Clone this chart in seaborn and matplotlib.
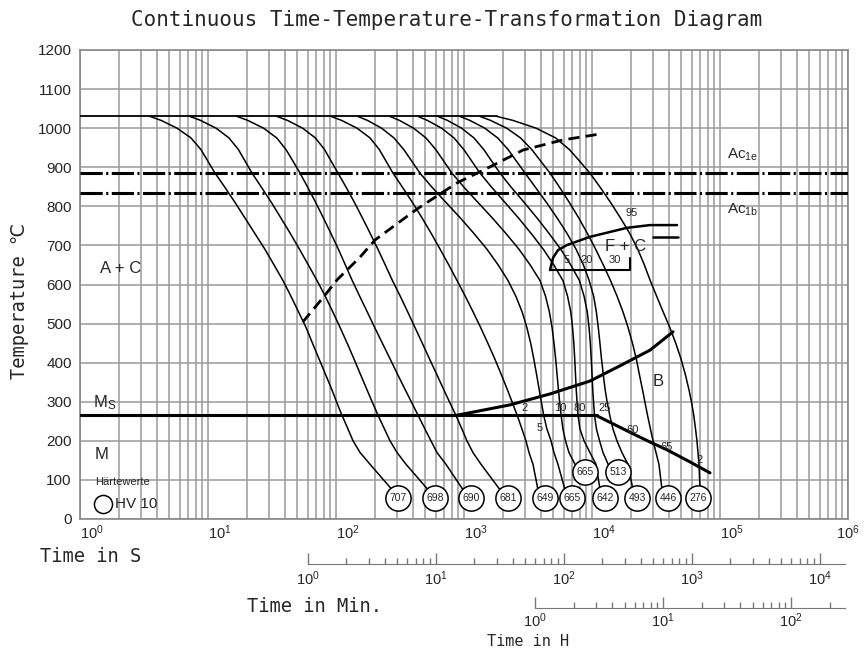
import seaborn as sns
import matplotlib.pyplot as plt
import pandas as pd
from matplotlib.ticker import FixedLocator, NullFormatter, LogLocator

sns.set_style("whitegrid")
plt.rcParams['font.family'] = ['Liberation Sans', 'DejaVu Sans']
plt.rcParams['mathtext.default'] = 'regular'
plt.rcParams['lines.scale_dashes'] = False

MONO = ['DejaVu Sans Mono', 'DejaVu Sans']

LEVELS = [1030, 1020, 1000, 975, 945, 915, 885, 850, 810, 770, 730, 690, 650, 610,
          570, 530, 490, 450, 410, 370, 330, 300, 265, 230, 200, 170, 140]

# log10(time in s) of each cooling curve at LEVELS; last entry = end at its hardness circle
C1 = [0.547, 0.633, 0.758, 0.867, 0.945, 1.0, 1.055, 1.129, 1.211, 1.289, 1.367, 1.445, 1.516, 1.586,
      1.648, 1.707, 1.766, 1.816, 1.867, 1.918, 1.969, 2.004, 2.047, 2.094, 2.133, 2.188, 2.266, 2.438]
C2 = [0.859, 0.941, 1.063, 1.164, 1.238, 1.291, 1.344, 1.415, 1.495, 1.570, 1.644, 1.715, 1.784, 1.852,
      1.916, 1.975, 2.032, 2.087, 2.140, 2.191, 2.243, 2.282, 2.329, 2.379, 2.422, 2.477, 2.547, 2.719]
C3 = [1.227, 1.310, 1.434, 1.537, 1.610, 1.665, 1.719, 1.777, 1.841, 1.902, 1.961, 2.019, 2.073, 2.127,
      2.185, 2.244, 2.302, 2.362, 2.422, 2.481, 2.542, 2.588, 2.642, 2.695, 2.742, 2.789, 2.859, 2.992]
C4 = [1.539, 1.620, 1.739, 1.839, 1.911, 1.963, 2.016, 2.077, 2.144, 2.207, 2.268, 2.328, 2.385, 2.441,
      2.502, 2.560, 2.617, 2.674, 2.730, 2.787, 2.843, 2.886, 2.937, 2.984, 3.023, 3.070, 3.133, 3.281]
C5 = [1.961, 2.043, 2.164, 2.266, 2.339, 2.392, 2.445, 2.517, 2.597, 2.673, 2.745, 2.814, 2.881, 2.946,
      3.010, 3.071, 3.130, 3.186, 3.240, 3.291, 3.340, 3.375, 3.416, 3.453, 3.484, 3.508, 3.539, 3.578]
C6 = [2.172, 2.245, 2.356, 2.453, 2.530, 2.593, 2.656, 2.747, 2.859, 2.972, 3.079, 3.180, 3.267, 3.344,
      3.405, 3.454, 3.491, 3.521, 3.545, 3.567, 3.588, 3.604, 3.623, 3.648, 3.680, 3.703, 3.734, 3.789]
C7 = [2.422, 2.495, 2.606, 2.703, 2.780, 2.843, 2.906, 2.997, 3.109, 3.222, 3.329, 3.430, 3.517, 3.594,
      3.637, 3.667, 3.688, 3.703, 3.716, 3.727, 3.738, 3.747, 3.759, 3.773, 3.793, 3.820, 3.875]
C8 = [2.641, 2.713, 2.825, 2.922, 2.999, 3.062, 3.125, 3.213, 3.320, 3.426, 3.526, 3.620, 3.702, 3.773,
      3.809, 3.834, 3.848, 3.858, 3.865, 3.871, 3.877, 3.883, 3.891, 3.906, 3.938, 3.984, 4.031, 4.063]
C9 = [2.797, 2.870, 2.981, 3.078, 3.155, 3.218, 3.281, 3.366, 3.470, 3.571, 3.666, 3.756, 3.834, 3.902,
      3.938, 3.963, 3.977, 3.987, 3.994, 4.000, 4.006, 4.012, 4.020, 4.035, 4.059, 4.086, 4.133]
C10 = [2.969, 3.045, 3.162, 3.263, 3.345, 3.411, 3.477, 3.555, 3.644, 3.728, 3.806, 3.876, 3.933, 3.978,
       4.013, 4.034, 4.049, 4.062, 4.074, 4.088, 4.103, 4.118, 4.139, 4.164, 4.195, 4.234, 4.281, 4.320]
C11 = [3.125, 3.207, 3.333, 3.442, 3.530, 3.601, 3.672, 3.744, 3.823, 3.897, 3.965, 4.029, 4.088, 4.145,
       4.196, 4.242, 4.282, 4.316, 4.346, 4.370, 4.395, 4.413, 4.434, 4.457, 4.477, 4.500, 4.523, 4.547]
C12 = [3.258, 3.381, 3.563, 3.716, 3.824, 3.905, 3.984, 4.061, 4.145, 4.223, 4.296, 4.358, 4.409, 4.455,
       4.505, 4.556, 4.608, 4.654, 4.695, 4.729, 4.758, 4.777, 4.795, 4.809, 4.820, 4.828, 4.836, 4.844]
CURVES = [C1, C2, C3, C4, C5, C6, C7, C8, C9, C10, C11, C12]
CURVE_END_T = [75, 75, 75, 75, 75, 75, 135, 75, 135, 75, 75, 75]

# hardness circles (HV 10)
HARDNESS = ["707", "698", "690", "681", "649", "665", "665", "642", "513", "493", "446", "276"]
CIRCLE_TIME = [305, 593, 1134, 2207, 4296, 6981, 8815, 12640, 15960, 22470, 39250, 67330]
CIRCLE_TEMP = [54, 54, 54, 54, 54, 54, 120, 54, 120, 54, 54, 54]

# austenitizing hold, Ac lines, Ms
HOLD_TIME = [1, 1811]
HOLD_TEMP = [1030, 1030]
AC1E = 885
AC1B = 835
MS_TIME = [1, 10940]
MS_TEMP = [265, 265]

# dashed line (carbide precipitation)
DASH_TIME = [55, 79, 102, 154, 202, 429, 882, 1596, 2890, 5930, 11550]
DASH_TEMP = [504, 566, 612, 670, 714, 793, 860, 901, 944, 970, 985]

# bainite start / end lines
BS_TIME = [866, 2288, 4698, 9647, 16550, 28390, 42960]
BS_TEMP = [265, 292, 320, 353, 392, 432, 479]
BF_TIME = [10940, 15120, 20910, 28390, 38540, 58300, 83530]
BF_TEMP = [264, 241, 218, 197, 177, 146, 118]

# ferrite + carbide region
FC_TIME = [4698, 4960, 5424, 6377, 9647, 18760, 28390, 46140]
FC_TEMP = [637, 668, 688, 701, 722, 745, 752, 752]
FC_BOX_TIME = [4698, 19820, 19820]
FC_BOX_TEMP = [637, 637, 668]
FC_END_TIME = [29960, 46980]
FC_END_TEMP = [722, 722]

# small percentage labels
PCT_TEXT = ["95", "5", "20", "30", "2", "5", "10", "80", "25", "60", "65", "2"]
PCT_TIME = [20540, 6377, 9141, 15120, 2996, 3925, 5623, 8058, 12640, 20910, 38540, 69810]
PCT_TEMP = [783, 663, 663, 663, 284, 233, 284, 284, 284, 228, 184, 151]

X_TICKS = [1, 10, 100, 1000, 10000, 100000, 1000000]

fig = plt.figure(figsize=(8.64, 6.52), dpi=100)
left, width = 80 / 864, 768 / 864
ax = fig.add_axes([left, 1 - 519 / 652, width, 469 / 652])

rows = []
for i, (log_t, end_t) in enumerate(zip(CURVES, CURVE_END_T)):
    temps = LEVELS[:len(log_t) - 1] + [end_t]
    for lt, T in zip(log_t, temps):
        rows.append({'curve': i, 'time': 10 ** lt, 'temp': T})
curves = pd.DataFrame(rows)

sns.lineplot(data=curves, x='time', y='temp', units='curve', estimator=None, sort=False,
             color='black', lw=1.1, ax=ax, legend=False, zorder=3)

ax.plot(HOLD_TIME, HOLD_TEMP, color='black', lw=1.3, zorder=3)
ax.plot(MS_TIME, MS_TEMP, color='black', lw=2.2, zorder=3)
ax.plot(BS_TIME, BS_TEMP, color='black', lw=2.2, zorder=3)
ax.plot(BF_TIME, BF_TEMP, color='black', lw=2.2, zorder=3)
ax.plot(DASH_TIME, DASH_TEMP, color='black', lw=2.0, dashes=(8, 4.5), zorder=3)
ax.plot(FC_TIME, FC_TEMP, color='black', lw=1.8, zorder=3)
ax.plot(FC_BOX_TIME, FC_BOX_TEMP, color='black', lw=1.5, zorder=3)
ax.plot(FC_END_TIME, FC_END_TEMP, color='black', lw=1.8, zorder=3)
for level in (AC1E, AC1B):
    ax.axhline(level, color='black', lw=2.2, dashes=(16, 2.5, 1.5, 2.5), zorder=3)

sns.scatterplot(x=CIRCLE_TIME, y=CIRCLE_TEMP, s=330, color='white', edgecolor='black',
                linewidth=1.1, ax=ax, zorder=5, legend=False)
for lab, t, T in zip(HARDNESS, CIRCLE_TIME, CIRCLE_TEMP):
    ax.text(t, T, lab, ha='center', va='center', fontsize=7.5, zorder=6)

for lab, t, T in zip(PCT_TEXT, PCT_TIME, PCT_TEMP):
    ax.text(t, T, lab, ha='center', va='center', fontsize=8, zorder=6)

# region labels
ax.text(1.43, 642, 'A + C', ha='left', va='center', fontsize=12)
ax.text(12640, 696, 'F + C', ha='left', va='center', fontsize=12)
ax.text(32790, 353, 'B', ha='center', va='center', fontsize=12)
ax.text(1.26, 297, 'M$_S$', ha='left', va='center', fontsize=12)
ax.text(1.31, 164, 'M', ha='left', va='center', fontsize=12)
ax.text(113400, 931, 'Ac$_{1e}$', ha='left', va='center', fontsize=11)
ax.text(113400, 791, 'Ac$_{1b}$', ha='left', va='center', fontsize=11)
ax.text(1.31, 95, 'Härtewerte', ha='left', va='center', fontsize=8)
sns.scatterplot(x=[1.51], y=[38], s=170, color='white', edgecolor='black', linewidth=1.1,
                ax=ax, zorder=5, legend=False)
ax.text(1.88, 38, 'HV 10', ha='left', va='center', fontsize=11)

ax.set_xscale('log')
ax.set_xlim(1, 1e6)
ax.set_ylim(0, 1200)
ax.set_yticks(range(0, 1201, 100))
ax.set_xticks(X_TICKS)
ax.set_xticklabels([f'$10^{{{i}}}$' for i in range(7)])
ax.xaxis.set_minor_locator(LogLocator(base=10, subs=range(2, 10)))
ax.xaxis.set_minor_formatter(NullFormatter())
for i, lab in enumerate(ax.get_xticklabels()):
    lab.set_ha('center' if i == 6 else 'left')
ax.tick_params(axis='both', which='both', length=0, labelsize=11)
ax.tick_params(axis='y', pad=6)
ax.tick_params(axis='x', pad=3, labelsize=10.5)
ax.set_xlabel('')
ax.set_ylabel('')
ax.grid(which='major', axis='both', color='#9a9a9a', lw=1.1)
ax.grid(which='minor', axis='x', color='#9a9a9a', lw=1.1)
for sp in ax.spines.values():
    sp.set_color('#888888')
    sp.set_linewidth(1.2)


def add_time_axis(y_px, scale, end, majors, minors, pad):
    a = fig.add_axes([left, 1 - y_px / 652, width, 0.0001])
    a.set_xscale('log')
    a.set_xlim(1 / scale, 1e6 / scale)
    a.patch.set_visible(False)
    a.grid(False)
    for s in ('top', 'left', 'right'):
        a.spines[s].set_visible(False)
    a.spines['bottom'].set_bounds(1, end)
    a.spines['bottom'].set_color('#777777')
    a.set_yticks([])
    a.xaxis.set_major_locator(FixedLocator(majors))
    a.xaxis.set_minor_locator(FixedLocator(minors))
    a.xaxis.set_minor_formatter(NullFormatter())
    a.set_xticklabels([f'$10^{{{i}}}$' for i in range(len(majors))])
    a.tick_params(axis='x', which='major', bottom=True, direction='in', length=8, width=1,
                  color='#777777', labelsize=10.5, pad=pad)
    a.tick_params(axis='x', which='minor', bottom=True, direction='in', length=4, width=1,
                  color='#777777')
    return a


min_minors = [k * 10 ** d for d in range(4) for k in range(2, 10)]
add_time_axis(564, 60, 15800, [1, 10, 100, 1000, 10000], min_minors, 4)
h_minors = [k * 10 ** d for d in range(2) for k in range(2, 10)] + [200]
add_time_axis(608, 3600, 263, [1, 10, 100], h_minors, 2.5)

fig.text(447 / 864, 1 - 20 / 652, 'Continuous Time-Temperature-Transformation Diagram',
         ha='center', va='center', family=MONO, fontsize=15)
fig.text(20 / 864, 1 - 301 / 652, 'Temperature ℃', rotation=90, ha='center', va='center',
         family=MONO, fontsize=13.5)
fig.text(40 / 864, 1 - 556 / 652, 'Time in S', ha='left', va='center', family=MONO, fontsize=13.5)
fig.text(247 / 864, 1 - 606 / 652, 'Time in Min.', ha='left', va='center', family=MONO, fontsize=13.5)
fig.text(487 / 864, 1 - 642 / 652, 'Time in H', ha='left', va='center', family=MONO, fontsize=11)

fig.savefig('out.png', dpi=100)
